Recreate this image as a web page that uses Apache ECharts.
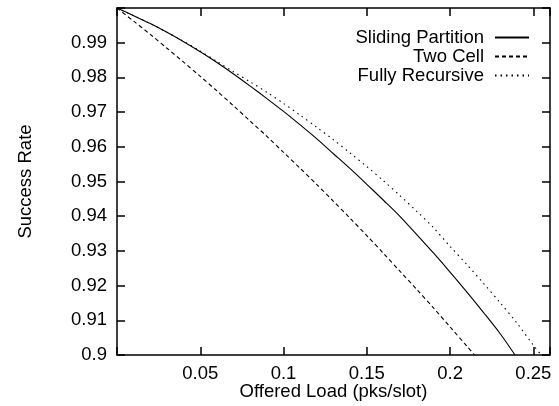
<!DOCTYPE html>
<html>
<head>
<meta charset="utf-8">
<script src="https://cdn.jsdelivr.net/npm/echarts@6/dist/echarts.min.js"></script>
<style>
    html, body { margin: 0; padding: 0; background: #fff; }
    #chart { width: 559px; height: 406px; }
</style>
</head>
<body>
<div id="chart"></div>
<script>
'use strict';

// values
var slidingX = [0, 0.01, 0.02, 0.03, 0.04, 0.05, 0.06, 0.07, 0.08, 0.09, 0.10, 0.11, 0.12,
    0.13, 0.14, 0.15, 0.16, 0.17, 0.18, 0.19, 0.20, 0.21, 0.22, 0.23, 0.239];
var slidingY = [1.0, 0.9978, 0.9955, 0.9930, 0.9903, 0.9874, 0.9843, 0.9810, 0.9775, 0.9739,
    0.9702, 0.9663, 0.9623, 0.9580, 0.9537, 0.9492, 0.9446, 0.9399, 0.9347, 0.9294, 0.9239,
    0.9182, 0.9123, 0.9062, 0.9];

var twoCellX = [0, 0.01, 0.02, 0.03, 0.04, 0.05, 0.06, 0.07, 0.08, 0.09, 0.10, 0.11, 0.12,
    0.13, 0.14, 0.15, 0.16, 0.17, 0.18, 0.19, 0.20, 0.21, 0.2147];
var twoCellY = [1.0, 0.9962, 0.9924, 0.9884, 0.9844, 0.9803, 0.9761, 0.9718, 0.9674, 0.9630,
    0.9584, 0.9538, 0.9491, 0.9443, 0.9394, 0.9344, 0.9293, 0.9241, 0.9189, 0.9136, 0.9081,
    0.9026, 0.9];

var fullyX = [0, 0.01, 0.02, 0.03, 0.04, 0.05, 0.06, 0.07, 0.08, 0.09, 0.10, 0.11, 0.12,
    0.13, 0.14, 0.15, 0.16, 0.17, 0.18, 0.19, 0.20, 0.21, 0.22, 0.23, 0.24, 0.25, 0.2547];
var fullyY = [1.0, 0.9978, 0.9955, 0.9930, 0.9904, 0.9876, 0.9846, 0.9816, 0.9787, 0.9757,
    0.9725, 0.9691, 0.9656, 0.9620, 0.9582, 0.9543, 0.9502, 0.9459, 0.9414, 0.9367, 0.9313,
    0.9261, 0.9207, 0.9151, 0.9093, 0.9028, 0.9];

var seriesNames = ['Sliding Partition', 'Two Cell', 'Fully Recursive'];
var xTickLabels = ['0.05', '0.1', '0.15', '0.2', '0.25'];
var yTickLabels = ['0.9', '0.91', '0.92', '0.93', '0.94', '0.95', '0.96', '0.97', '0.98', '0.99'];

function pairs(xs, ys) {
    return xs.map(function (x, i) { return [x, ys[i]]; });
}

var font = 'Liberation Sans, Arial, sans-serif';
var fsize = 18.5;

function xLabel(v) {
    var s = String(Math.round(v * 100) / 100);
    return xTickLabels.indexOf(s) >= 0 ? s : '';
}
function yLabel(v) {
    var s = String(Math.round(v * 100) / 100);
    return yTickLabels.indexOf(s) >= 0 ? s : '';
}

function axisLine() {
    return { show: true, onZero: false, lineStyle: { color: '#000', width: 1.5 } };
}
function axisTick() {
    return { show: true, inside: true, length: 8, lineStyle: { color: '#000', width: 1.5 } };
}

var myChart = echarts.init(document.getElementById('chart'));

var option = {
    animation: false,
    backgroundColor: '#fff',
    textStyle: { fontFamily: font, color: '#000' },
    grid: { left: 117, right: 9, top: 8, bottom: 51, outerBoundsMode: 'none', containLabel: false },
    legend: {
        orient: 'vertical',
        right: 24,
        top: 23,
        align: 'right',
        itemWidth: 34,
        itemHeight: 12,
        itemGap: 0,
        data: seriesNames,
        itemStyle: { opacity: 0 },
        textStyle: {
            fontFamily: font, fontSize: fsize, color: '#000',
            lineHeight: 14, padding: [0, 6, 0, 0]
        }
    },
    xAxis: [{
        type: 'value',
        min: 0,
        max: 0.26,
        interval: 0.05,
        name: 'Offered Load (pks/slot)',
        nameLocation: 'middle',
        nameGap: 27,
        nameMoveOverlap: false,
        nameTextStyle: { fontFamily: font, fontSize: fsize, color: '#000' },
        axisLine: axisLine(),
        axisTick: axisTick(),
        splitLine: { show: false },
        axisLabel: { formatter: xLabel, margin: 9, fontFamily: font, fontSize: fsize, color: '#000' }
    }, {
        type: 'value',
        position: 'top',
        min: 0,
        max: 0.26,
        interval: 0.05,
        axisLine: axisLine(),
        axisTick: axisTick(),
        splitLine: { show: false },
        axisLabel: { show: false }
    }],
    yAxis: [{
        type: 'value',
        min: 0.9,
        max: 1.0,
        interval: 0.01,
        name: 'Success Rate',
        nameLocation: 'middle',
        nameGap: 82,
        nameMoveOverlap: false,
        nameTextStyle: { fontFamily: font, fontSize: fsize, color: '#000' },
        axisLine: axisLine(),
        axisTick: axisTick(),
        splitLine: { show: false },
        axisLabel: { formatter: yLabel, margin: 10, fontFamily: font, fontSize: fsize, color: '#000' }
    }, {
        type: 'value',
        position: 'right',
        min: 0.9,
        max: 1.0,
        interval: 0.01,
        axisLine: axisLine(),
        axisTick: axisTick(),
        splitLine: { show: false },
        axisLabel: { show: false }
    }],
    series: [{
        name: seriesNames[0],
        type: 'line',
        symbol: 'none',
        smooth: 0.3,
        data: pairs(slidingX, slidingY),
        lineStyle: { color: '#000', width: 1.1, type: 'solid' },
        itemStyle: { color: '#000' }
    }, {
        name: seriesNames[1],
        type: 'line',
        symbol: 'none',
        smooth: 0.3,
        data: pairs(twoCellX, twoCellY),
        lineStyle: { color: '#000', width: 1.1, type: [4, 3] },
        itemStyle: { color: '#000' }
    }, {
        name: seriesNames[2],
        type: 'line',
        symbol: 'none',
        smooth: 0.3,
        data: pairs(fullyX, fullyY),
        lineStyle: { color: '#000', width: 1.1, type: [1.5, 4] },
        itemStyle: { color: '#000' }
    }]
};

myChart.setOption(option);
</script>
</body>
</html>
